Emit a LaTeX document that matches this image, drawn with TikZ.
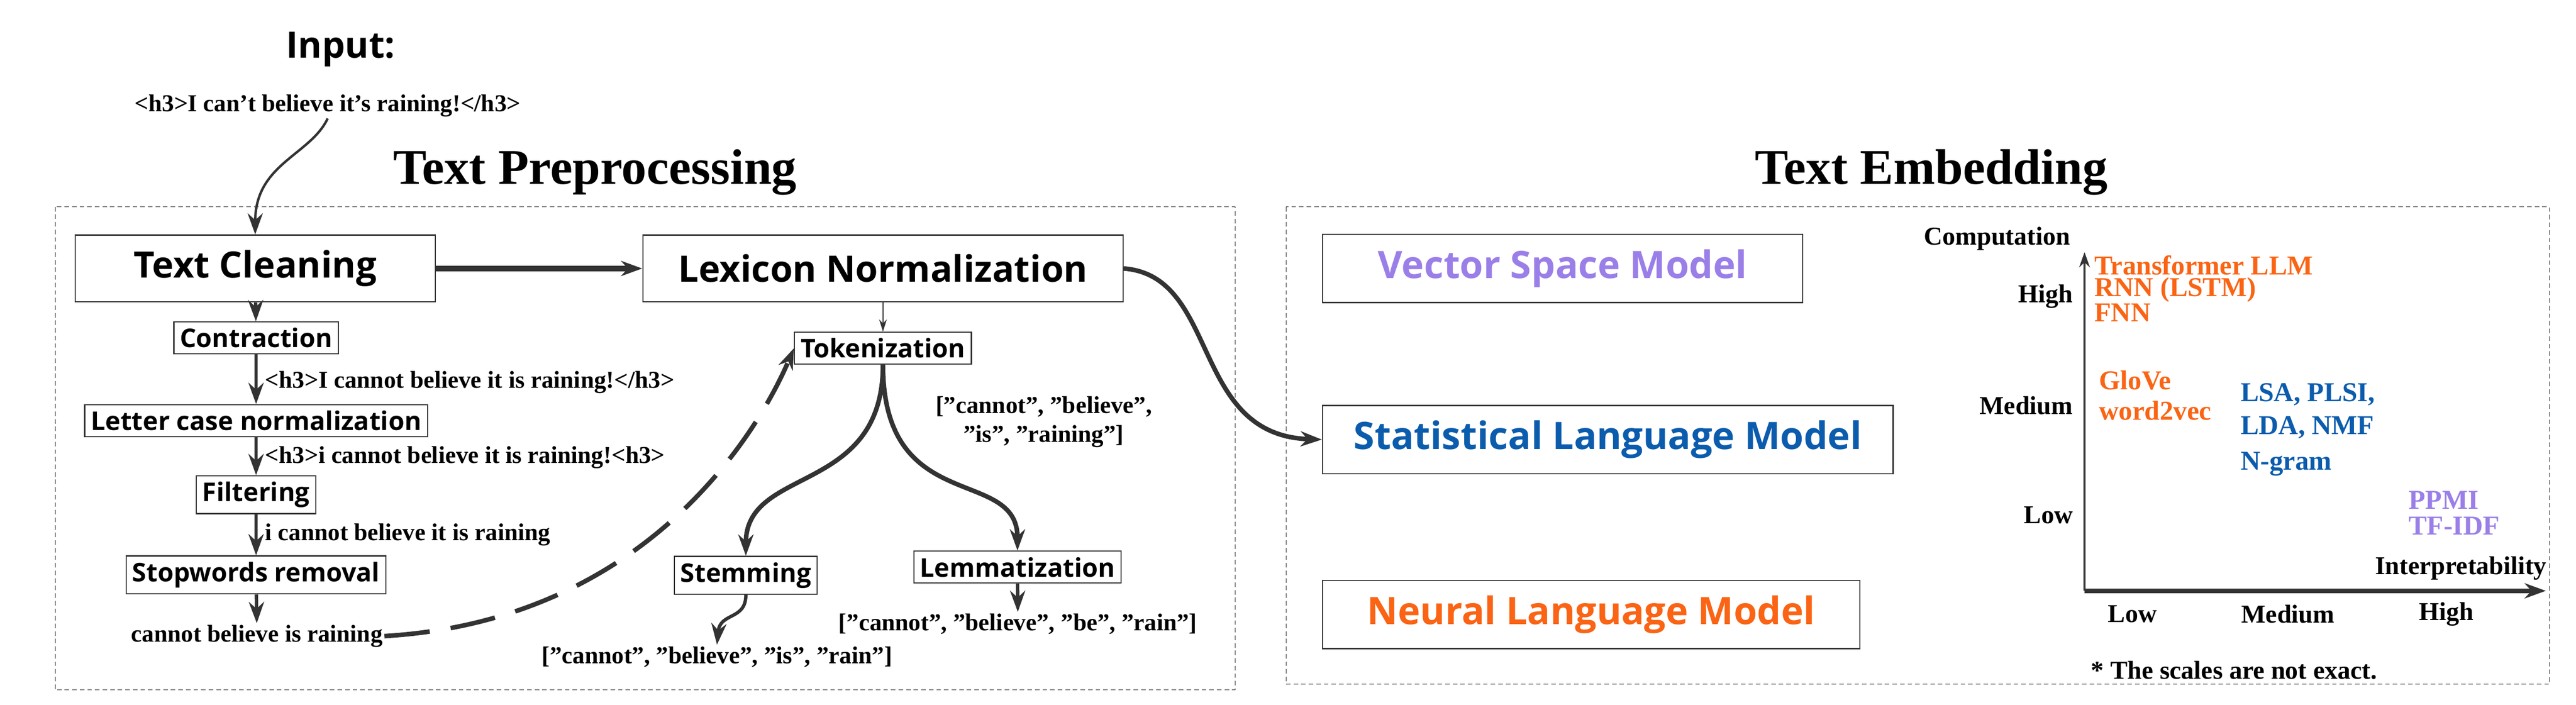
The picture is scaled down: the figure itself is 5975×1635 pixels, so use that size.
\documentclass[tikz,border=0pt]{standalone}
\usepackage{fontspec}
\setmainfont{Liberation Serif}
\newfontfamily\boxfont{Open Sans}
\usetikzlibrary{arrows.meta,positioning}
\definecolor{linegray}{HTML}{333333}
\definecolor{vsmpurple}{HTML}{9B7FE8}
\definecolor{slmblue}{HTML}{0B5CAD}
\definecolor{nlmorange}{HTML}{FA6414}
\newcommand{\qt}{\char34\relax}
\newcommand{\ap}{\char39\relax}
\tikzset{
  stage/.style={draw=linegray, thick, inner sep=4pt, font=\boxfont\bfseries\fontsize{17}{19}\selectfont},
  bigstage/.style={draw=linegray, thick, minimum height=1.55cm, font=\boxfont\bfseries\fontsize{24}{28}\selectfont},
  model/.style={draw=linegray, thick, minimum height=1.58cm, anchor=west, font=\boxfont\bfseries\fontsize{25}{30}\selectfont},
  sample/.style={font=\bfseries\fontsize{16}{19}\selectfont, inner sep=1pt},
  axislabel/.style={font=\bfseries\fontsize{17}{19}\selectfont, inner sep=1pt},
  method/.style={font=\bfseries\fontsize{18}{20}\selectfont, anchor=west, inner sep=1pt},
  flow/.style={-{Stealth[length=14pt,width=10pt]}, line width=2.2pt, draw=linegray},
  region/.style={draw=linegray, densely dashed, thin},
}
\begin{document}
\begin{tikzpicture}[x=0.01cm, y=-0.01cm]
        \useasboundingbox (0,0) rectangle (5975,1635);
        % titles
        \node[font=\boxfont\bfseries\fontsize{24}{28}\selectfont] (inputtitle) at (790,115) {Input:};
        \node[sample] (inputtext) at (760,245) {<h3>I can\ap t believe it\ap s raining!</h3>};
        \node[font=\bfseries\fontsize{33}{38}\selectfont] (pretitle) at (1380,400) {Text Preprocessing};
        \node[font=\bfseries\fontsize{33}{38}\selectfont] (embtitle) at (4480,400) {Text Embedding};
        % dashed regions
        \draw[region] (128,480) rectangle (2865,1601);
        \draw[region] (2983,480) rectangle (5913,1588);
        % preprocessing stages
        \node[bigstage, minimum width=8.35cm] (cleaning) at (592,623) {Text Cleaning};
        \node[bigstage, minimum width=11.13cm] (lexicon) at (2048,623) {Lexicon Normalization};
        \node[stage] (contraction) at (594,784) {Contraction};
        \node[stage] (lettercase) at (594,976) {Letter case normalization};
        \node[stage] (filtering) at (594,1148) {Filtering};
        \node[stage] (stopwords) at (594,1334) {Stopwords removal};
        \node[sample] (cleaned) at (596,1476) {cannot believe is raining};
        \node[stage] (tokenization) at (2048,808) {Tokenization};
        \node[stage] (stemming) at (1730,1335) {Stemming};
        \node[stage] (lemmatization) at (2360,1316) {Lemmatization};
        % intermediate texts
        \node[sample, anchor=west] (text1) at (611,887) {<h3>I cannot believe it is raining!</h3>};
        \node[sample, anchor=west] (text2) at (611,1062) {<h3>i cannot believe it is raining!<h3>};
        \node[sample, anchor=west] (text3) at (611,1241) {i cannot believe it is raining};
        \node[sample, align=center] (tokens) at (2421,979) {[\qt cannot\qt, \qt believe\qt,\\\qt is\qt, \qt raining\qt]};
        \node[sample] (stems) at (1663,1524) {[\qt cannot\qt, \qt believe\qt, \qt is\qt, \qt rain\qt]};
        \node[sample] (lemmas) at (2361,1448) {[\qt cannot\qt, \qt believe\qt, \qt be\qt, \qt rain\qt]};
        % preprocessing flow
        \draw[flow, line width=1.6pt] (inputtext.south) .. controls (720,360) and (592,380) .. (cleaning.north);
        \draw[flow, line width=3.5pt] (cleaning) -- (lexicon);
        \draw[flow] (cleaning) -- (contraction);
        \draw[flow] (contraction) -- (lettercase);
        \draw[flow] (lettercase) -- (filtering);
        \draw[flow] (filtering) -- (stopwords);
        \draw[flow] (stopwords) -- (cleaned);
        \draw[flow, line width=0.8pt, -{Stealth[length=8pt,width=5pt]}] (lexicon) -- (tokenization);
        \draw[flow, dash pattern=on 30pt off 14pt, line width=3pt] (cleaned.east) .. controls (1500,1440) and (1760,1000) .. (tokenization.west);
        \draw[flow, line width=3pt] (tokenization.south) .. controls (2048,1150) and (1730,1080) .. (stemming.north);
        \draw[flow, line width=3pt] (tokenization.south) .. controls (2048,1200) and (2360,1080) .. (lemmatization.north);
        \draw[flow] (stemming.south) .. controls (1730,1440) and (1670,1420) .. (stems.north);
        \draw[flow] (lemmatization) -- (lemmas);
        % embedding models
        \node[model, minimum width=11.13cm, text=vsmpurple] (vsm) at (3066,623) {Vector Space Model};
        \node[model, minimum width=13.23cm, text=slmblue] (slm) at (3066,1020) {Statistical Language Model};
        \node[model, minimum width=12.46cm, text=nlmorange] (nlm) at (3066,1426) {Neural Language Model};
        \draw[flow, line width=3pt] (lexicon.east) .. controls (2830,640) and (2760,1010) .. (slm.west);
        % axes
        \coordinate (origin) at (4835,1371);
        \coordinate (ytop)   at (4835,585);
        \coordinate (xend)   at (5905,1371);
        \draw[flow, line width=1.6pt, -{Stealth[length=10pt,width=7pt]}] (origin) -- (ytop);
        \draw[flow, line width=3pt] (origin) -- (xend);
        \node[axislabel] (ylabel) at (4632,554) {Computation};
        \node[axislabel, anchor=east] (xlabel) at (5911,1319) {Interpretability};
        \node[axislabel, anchor=east] (yhigh) at (4812,688) {High};
        \node[axislabel, anchor=east] (ymed)  at (4812,941) {Medium};
        \node[axislabel, anchor=east] (ylow)  at (4812,1195) {Low};
        \node[axislabel] (xlow)  at (4946,1425) {Low};
        \node[axislabel] (xmed)  at (5307,1425) {Medium};
        \node[axislabel] (xhigh) at (5674,1425) {High};
        % methods
        \node[method, text=nlmorange] (transformer) at (4854,616) {Transformer LLM};
        \node[method, text=nlmorange] (rnn) at (4854,673) {RNN (LSTM)};
        \node[method, text=nlmorange] (fnn) at (4854,726) {FNN};
        \node[method, text=nlmorange] (glove) at (4865,882) {GloVe};
        \node[method, text=nlmorange] (wordvec) at (4865,953) {word2vec};
        \node[method, text=slmblue] (lsa) at (5193,916) {LSA, PLSI,};
        \node[method, text=slmblue] (lda) at (5193,992) {LDA, NMF};
        \node[method, text=slmblue] (ngram) at (5193,1077) {N-gram};
        \node[method, text=vsmpurple] (ppmi) at (5583,1161) {PPMI};
        \node[method, text=vsmpurple] (tfidf) at (5583,1220) {TF-IDF};
        \node[axislabel, anchor=west] (note) at (4846,1555) {* The scales are not exact.};
      \end{tikzpicture}
\end{document}
